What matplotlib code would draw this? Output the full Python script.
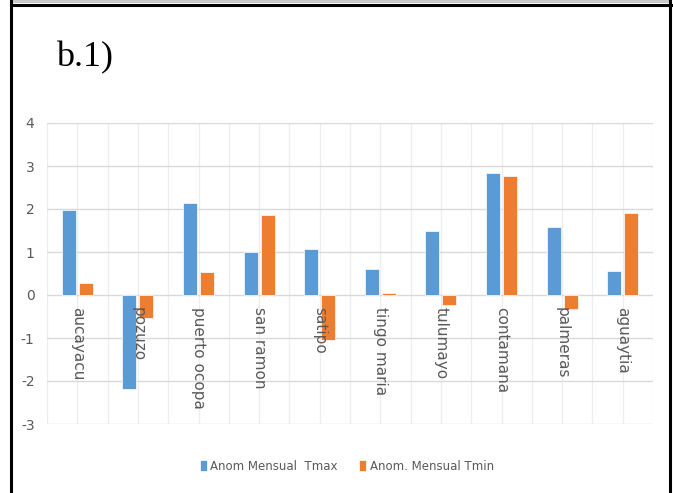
import matplotlib.pyplot as plt
import numpy as np
from matplotlib.patches import Rectangle
from matplotlib.lines import Line2D

estaciones = ["aucayacu", "pozuzo", "puerto ocopa", "san ramon", "satipo",
              "tingo maria", "tulumayo", "contamana", "palmeras", "aguaytia"]
anom_tmax = [1.97, -2.19, 2.13, 1.00, 1.06, 0.60, 1.49, 2.83, 1.57, 0.56]
anom_tmin = [0.29, -0.54, 0.53, 1.87, -1.04, 0.04, -0.23, 2.76, -0.32, 1.90]
leyenda = ["Anom Mensual  Tmax", "Anom. Mensual Tmin"]

azul = "#5B9BD5"
naranja = "#ED7D31"
gris = "#595959"

plt.rcParams["axes.unicode_minus"] = False

W, H = 673, 493
fig = plt.figure(figsize=(W / 100, H / 100), dpi=100)

# frame around the panel
fig.patches.append(Rectangle((11 / W, 1 - 3 / H), 659 / W, 3 / H, transform=fig.transFigure,
                             facecolor="#C8C8C8", edgecolor="none"))
for x in (11.5 / W, 670 / W):
    fig.lines.append(Line2D([x, x], [0, 1], transform=fig.transFigure, color="black", lw=2.2))
fig.lines.append(Line2D([11 / W, 671 / W], [1 - 4.5 / H, 1 - 4.5 / H], transform=fig.transFigure,
                        color="black", lw=2.2))

fig.text(56 / W, 1 - 58 / H, "b.1)", family="Liberation Serif", fontsize=26, va="center", ha="left")

ax = fig.add_axes([47 / W, (H - 424) / H, 606 / W, 301 / H])
x = np.arange(len(estaciones))
off, bw = 0.14, 0.23
b1 = ax.bar(x - off, anom_tmax, bw, color=azul, edgecolor="white", linewidth=0.5, zorder=3)
b2 = ax.bar(x + off, anom_tmin, bw, color=naranja, edgecolor="white", linewidth=0.5, zorder=3)

ax.set_xlim(-0.5, len(estaciones) - 0.5)
ax.set_ylim(-3, 4)
ax.set_yticks(range(-3, 5))
ax.set_xticks([])
for v in range(-3, 5):
    ax.axhline(v, color="#D9D9D9", lw=1, zorder=1)
for v in np.arange(-0.5, len(estaciones), 0.5):
    ax.axvline(v, color="#EDEDED", lw=0.9, zorder=0)
for s in ax.spines.values():
    s.set_visible(False)
ax.tick_params(axis="y", length=0, pad=9, labelsize=10, labelcolor=gris)

for i, nombre in enumerate(estaciones):
    ax.text(i, -0.28, nombre, rotation=270, ha="center", va="top",
            fontsize=11, color=gris, zorder=4)

fig.legend([b1, b2], leyenda, loc="center", bbox_to_anchor=(0.515, (H - 466) / H), ncol=2,
           frameon=False, fontsize=8.5, labelcolor=gris, handlelength=0.6, handleheight=1.0,
           handletextpad=0.3, columnspacing=1.8)

fig.savefig("out.png", dpi=100)
